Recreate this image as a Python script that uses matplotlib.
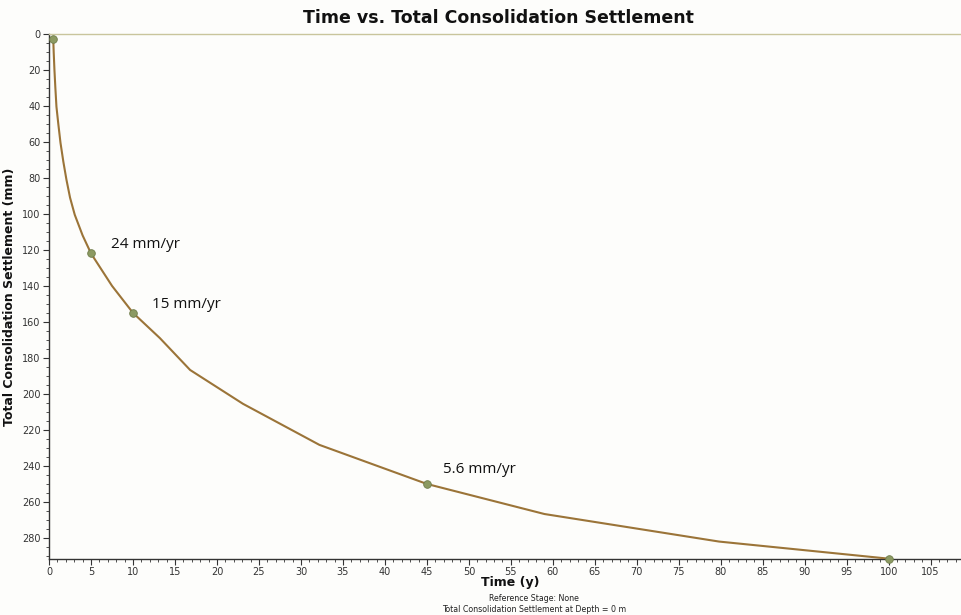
import matplotlib
matplotlib.use('Agg')
import matplotlib.pyplot as plt
from matplotlib.ticker import MultipleLocator

# data
time_y = [0.5, 0.55, 0.64, 0.75, 0.88, 1.1, 1.36, 1.7, 2.07, 2.5, 3.06, 4.0, 5,
          7.5, 10, 13.2, 16.8, 23.1, 32.2, 45, 59, 79.8, 100]
settle_mm = [3, 10, 20, 30, 40.5, 50, 60.5, 71, 81, 91, 100.5, 112, 122,
             140, 155, 169, 186.7, 205.5, 228.3, 250, 266.7, 282, 291.5]

marker_t = [0.5, 5, 10, 45, 100]
marker_s = [3, 122, 155, 250, 291.5]

rate_labels = ['24 mm/yr', '15 mm/yr', '5.6 mm/yr']
rate_x = [7.4, 12.3, 46.9]
rate_y = [117, 150.5, 242]

bg = '#fdfdfb'
fig = plt.figure(figsize=(9.62, 6.15), dpi=100, facecolor=bg)
ax = fig.add_axes([0.051, 0.091, 0.947, 0.854], facecolor=bg)

ax.plot(time_y, settle_mm, color='#9b7438', lw=1.5, zorder=3)
ax.plot(marker_t, marker_s, 'o', ms=5.5, color='#8c9a62', mec='#6f7d4a', mew=0.6, zorder=4, clip_on=False)

for lab, x, y in zip(rate_labels, rate_x, rate_y):
    ax.text(x, y, lab, fontsize=11, va='center', ha='left', color='#111111', family='Open Sans')

ax.set_xlim(0, 108.5)
ax.set_ylim(291.7, 0)
ax.xaxis.set_major_locator(MultipleLocator(5))
ax.xaxis.set_minor_locator(MultipleLocator(1))
ax.yaxis.set_major_locator(MultipleLocator(20))
ax.yaxis.set_minor_locator(MultipleLocator(5))
ax.tick_params(which='major', length=4, width=0.8, color='#333333', labelsize=7, labelcolor='#333333', pad=2)
ax.tick_params(which='minor', length=2, width=0.6, color='#333333')

for s in ['left', 'bottom']:
    ax.spines[s].set_color('#333333')
    ax.spines[s].set_linewidth(1.0)
ax.spines['right'].set_visible(False)
ax.spines['top'].set_color('#c9c59c')
ax.spines['top'].set_linewidth(1.0)

ax.set_xlabel('Time (y)', fontsize=9, fontweight='bold', color='#111111')
ax.xaxis.set_label_coords(0.506, -0.033)
ax.set_ylabel('Total Consolidation Settlement (mm)', fontsize=9, fontweight='bold', color='#111111')
ax.yaxis.set_label_coords(-0.036, 0.5)
fig.text(0.518, 0.971, 'Time vs. Total Consolidation Settlement', fontsize=12.5, fontweight='bold',
         ha='center', va='center', color='#111111')
fig.text(0.555, 0.027, 'Reference Stage: None', fontsize=5.7, ha='center', va='center', color='#222222')
fig.text(0.555, 0.009, 'Total Consolidation Settlement at Depth = 0 m', fontsize=5.7, ha='center', va='center', color='#222222')

fig.savefig('out.png', dpi=100, facecolor=bg)
